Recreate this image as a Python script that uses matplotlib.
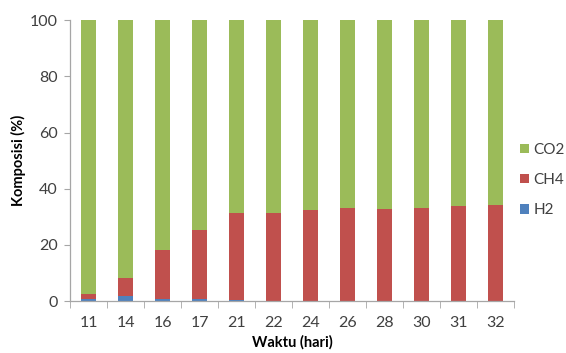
import matplotlib.pyplot as plt
import numpy as np

days = ["11", "14", "16", "17", "21", "22", "24", "26", "28", "30", "31", "32"]
h2 = [0.8, 1.8, 0.6, 0.6, 0.4, 0, 0, 0, 0, 0, 0, 0]
ch4 = [1.8, 6.5, 17.5, 24.7, 30.9, 31.2, 32.3, 33.0, 32.7, 33.2, 33.8, 34.2]
co2 = [100 - a - b for a, b in zip(h2, ch4)]

plt.rcParams['font.family'] = ['Lato', 'DejaVu Sans']

fig = plt.figure(figsize=(5.66, 3.53), dpi=100)
ax = fig.add_axes([0.124, 0.147, 0.784, 0.796])

x = np.arange(len(days))
w = 0.4
b1 = ax.bar(x, h2, w, color='#4f81bd', label='H2')
b2 = ax.bar(x, ch4, w, bottom=h2, color='#c0504d', label='CH4')
b3 = ax.bar(x, co2, w, bottom=np.array(h2) + np.array(ch4), color='#9bbb59', label='CO2')

ax.set_xlim(-0.5, len(days) - 0.5)
ax.set_ylim(0, 100)
ax.set_yticks(range(0, 101, 20))
ax.set_xticks(x)
ax.set_xticklabels(days)
ax.set_xticks(np.arange(-0.5, len(days), 1), minor=True)
ax.tick_params(axis='x', which='major', length=0, labelsize=11.5, pad=11)
ax.tick_params(axis='x', which='minor', length=5, color='#a6a6a6', direction='out')
ax.tick_params(axis='y', length=4, color='#a6a6a6', labelsize=11.5, pad=5)
for lab in ax.get_xticklabels() + ax.get_yticklabels():
    lab.set_color('#404040')

for s in ['top', 'right']:
    ax.spines[s].set_visible(False)
for s in ['left', 'bottom']:
    ax.spines[s].set_color('#a6a6a6')
    ax.spines[s].set_linewidth(0.9)

ax.set_xlabel('Waktu (hari)', fontsize=10.5, fontweight='bold', color='black', labelpad=3.5)
ax.set_ylabel('Komposisi (%)', fontsize=10.5, fontweight='bold', color='black', labelpad=3)

handles = [b3, b2, b1]
leg = fig.legend(handles, ['CO2', 'CH4', 'H2'], loc='center left',
                 bbox_to_anchor=(0.918, 0.49), frameon=False, fontsize=11,
                 handlelength=0.6, handleheight=0.6, labelspacing=1.05,
                 handletextpad=0.3, borderpad=0, borderaxespad=0)
for t in leg.get_texts():
    t.set_color('#404040')

fig.savefig('out.png', dpi=100)
